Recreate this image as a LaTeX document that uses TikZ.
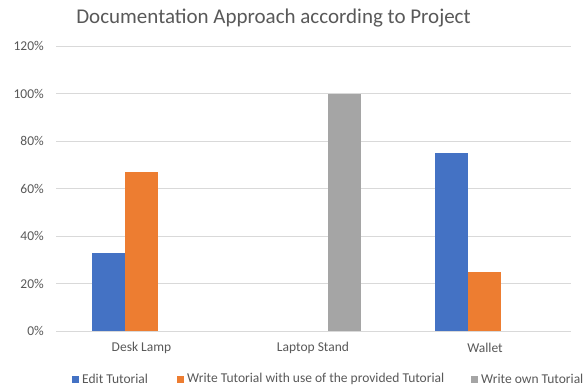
\documentclass[tikz,border=0pt]{standalone}
\usepackage{fontspec}
\setmainfont{Carlito}
\definecolor{sblue}{HTML}{4472C4}
\definecolor{sorange}{HTML}{ED7D31}
\definecolor{sgray}{HTML}{A5A5A5}
\definecolor{grid}{HTML}{D9D9D9}
\definecolor{txt}{HTML}{595959}
\begin{document}
\begin{tikzpicture}[x=1pt,y=-1pt,
  gridline/.style={draw=grid,line width=1pt},
  ticklabel/.style={anchor=east,text=txt,font=\fontsize{13.5}{15}\selectfont,inner sep=0pt},
  catlabel/.style={anchor=center,text=txt,font=\fontsize{13.5}{15}\selectfont,inner sep=0pt},
  legtext/.style={anchor=west,text=txt,font=\fontsize{13.5}{15}\selectfont,inner sep=0pt},
  bar/.style={draw=none}]
\useasboundingbox[fill=white] (0,0) rectangle (588,388);
% title
\node[text=txt,font=\fontsize{21}{24}\selectfont,inner sep=0pt] (title) at (273.5,18) {Documentation Approach according to Project};
% grid and tick labels
\foreach \v/\lab in {0/0\%,1/20\%,2/40\%,3/60\%,4/80\%,5/100\%,6/120\%}{
  \draw[gridline] (56,331-\v*47.5) -- (571,331-\v*47.5);
  \node[ticklabel] (t\v) at (44,331-\v*47.5) {\lab};
}
% bars
\fill[sblue]   (92,331) rectangle (125,331-33*2.375);
\fill[sorange] (125,331) rectangle (158,331-67*2.375);
\fill[sgray]   (328,331) rectangle (361,331-100*2.375);
\fill[sblue]   (435,331) rectangle (468,331-75*2.375);
\fill[sorange] (468,331) rectangle (501,331-25*2.375);
\draw[gridline] (56,331) -- (571,331);
% category labels
\node[catlabel] (c1) at (141.5,348) {Desk Lamp};
\node[catlabel] (c2) at (313,348) {Laptop Stand};
\node[catlabel] (c3) at (485,348) {Wallet};
% legend
\fill[sblue]   (72,375.5) rectangle (79,382.5);
\node[legtext] (l1) at (82,379) {Edit Tutorial};
\fill[sorange] (177,375.5) rectangle (184,382.5);
\node[legtext] (l2) at (187,379) {Write Tutorial with use of the provided Tutorial};
\fill[sgray]   (471,375.5) rectangle (478,382.5);
\node[legtext] (l3) at (481,379) {Write own Tutorial};
\end{tikzpicture}
\end{document}
